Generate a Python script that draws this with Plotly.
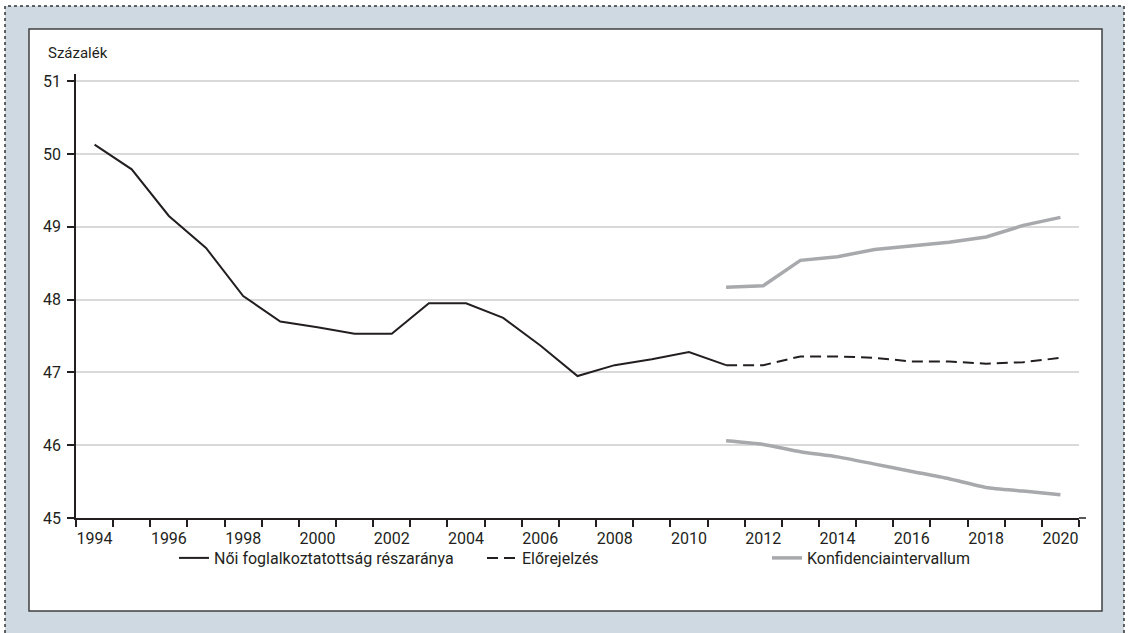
import plotly.graph_objects as go

years_hist = list(range(1994, 2012))
share_hist = [50.13, 49.79, 49.15, 48.71, 48.05, 47.70, 47.62, 47.53, 47.53, 47.95,
              47.95, 47.75, 47.37, 46.95, 47.10, 47.18, 47.28, 47.10]

years_fc = list(range(2011, 2021))
forecast = [47.10, 47.10, 47.22, 47.22, 47.20, 47.15, 47.15, 47.12, 47.14, 47.20]
ci_upper = [48.17, 48.19, 48.54, 48.59, 48.69, 48.74, 48.79, 48.86, 49.02, 49.13]
ci_lower = [46.06, 46.01, 45.91, 45.84, 45.74, 45.64, 45.54, 45.42, 45.37, 45.32]

x_labels = list(range(1994, 2021, 2))
y_ticks = [45, 46, 47, 48, 49, 50, 51]

FONT = "Roboto, Liberation Sans, sans-serif"
BLACK = "#231f20"
GREY = "#a7a9ac"

W, H = 1131, 633
L, R, T, B = 76, 1079, 74, 518


def px(x):
    return (x - L) / (R - L)


def py(y):
    return (B - y) / (B - T)


fig = go.Figure()
fig.add_trace(go.Scatter(x=years_hist, y=share_hist, mode="lines",
                         line=dict(color=BLACK, width=2),
                         name="Női foglalkoztatottság részaránya", legend="legend"))
fig.add_trace(go.Scatter(x=years_fc, y=forecast, mode="lines",
                         line=dict(color=BLACK, width=2, dash="11px,6px"),
                         name="Előrejelzés", legend="legend2"))
fig.add_trace(go.Scatter(x=years_fc, y=ci_upper, mode="lines",
                         line=dict(color=GREY, width=3.5),
                         name="Konfidenciaintervallum", legend="legend3",
                         legendgroup="ci"))
fig.add_trace(go.Scatter(x=years_fc, y=ci_lower, mode="lines",
                         line=dict(color=GREY, width=3.5, shape="spline", smoothing=0.6),
                         name="Konfidenciaintervallum", legend="legend3",
                         legendgroup="ci", showlegend=False))

leg_common = dict(orientation="h", yanchor="middle", xanchor="left",
                  bgcolor="rgba(0,0,0,0)", font=dict(family=FONT, size=16, color=BLACK))

fig.update_layout(
    width=W, height=H,
    showlegend=True,
    margin=dict(l=L, r=W - R, t=T, b=H - B, pad=0, autoexpand=False),
    paper_bgcolor="white",
    plot_bgcolor="white",
    font=dict(family=FONT, size=16, color=BLACK),
    legend=dict(x=px(174), y=py(558), **leg_common),
    legend2=dict(x=px(482), y=py(558), **leg_common),
    legend3=dict(x=px(767), y=py(558), **leg_common),
    xaxis=dict(
        range=[1993.5, 2020.5],
        tickvals=x_labels, ticktext=[str(v) for v in x_labels],
        ticks="", showgrid=False, zeroline=False,
        showline=True, linecolor=BLACK, linewidth=1.5,
        ticklabelstandoff=5,
        minor=dict(tick0=1993.5, dtick=1, ticks="outside", ticklen=7,
                   tickcolor=BLACK, tickwidth=1.5, showgrid=False),
        tickfont=dict(family=FONT, size=16, color=BLACK),
    ),
    yaxis=dict(
        range=[45, 51.1],
        tickvals=y_ticks, ticktext=[str(v) for v in y_ticks],
        ticks="outside", ticklen=7, tickcolor=BLACK, tickwidth=1.5,
        showgrid=True, gridcolor="#d9d9d9", gridwidth=1.5,
        zeroline=False, showline=True, linecolor=BLACK, linewidth=1.5,
        ticklabelstandoff=3,
        tickfont=dict(family=FONT, size=16, color=BLACK),
    ),
    shapes=[
        dict(type="rect", xref="paper", yref="paper", layer="below",
             x0=px(5), x1=px(1124), y0=py(660), y1=py(6),
             fillcolor="#cfd9e1", line=dict(color="#333333", width=1.5, dash="dot")),
        dict(type="rect", xref="paper", yref="paper", layer="below",
             x0=px(29), x1=px(1102), y0=py(611), y1=py(29),
             fillcolor="white", line=dict(color="#404040", width=1.5)),
        dict(type="line", xref="paper", yref="paper",
             x0=1, x1=px(1086), y0=0, y1=0,
             line=dict(color=BLACK, width=1.5)),
    ],
    annotations=[
        dict(text="Százalék", xref="paper", yref="paper", x=px(46), y=py(53),
             xanchor="left", yanchor="middle", showarrow=False,
             font=dict(family=FONT, size=15, color=BLACK)),
    ],
)

fig.write_html("out.html", config={"displayModeBar": False},
               post_script="document.body.style.margin='0';")
